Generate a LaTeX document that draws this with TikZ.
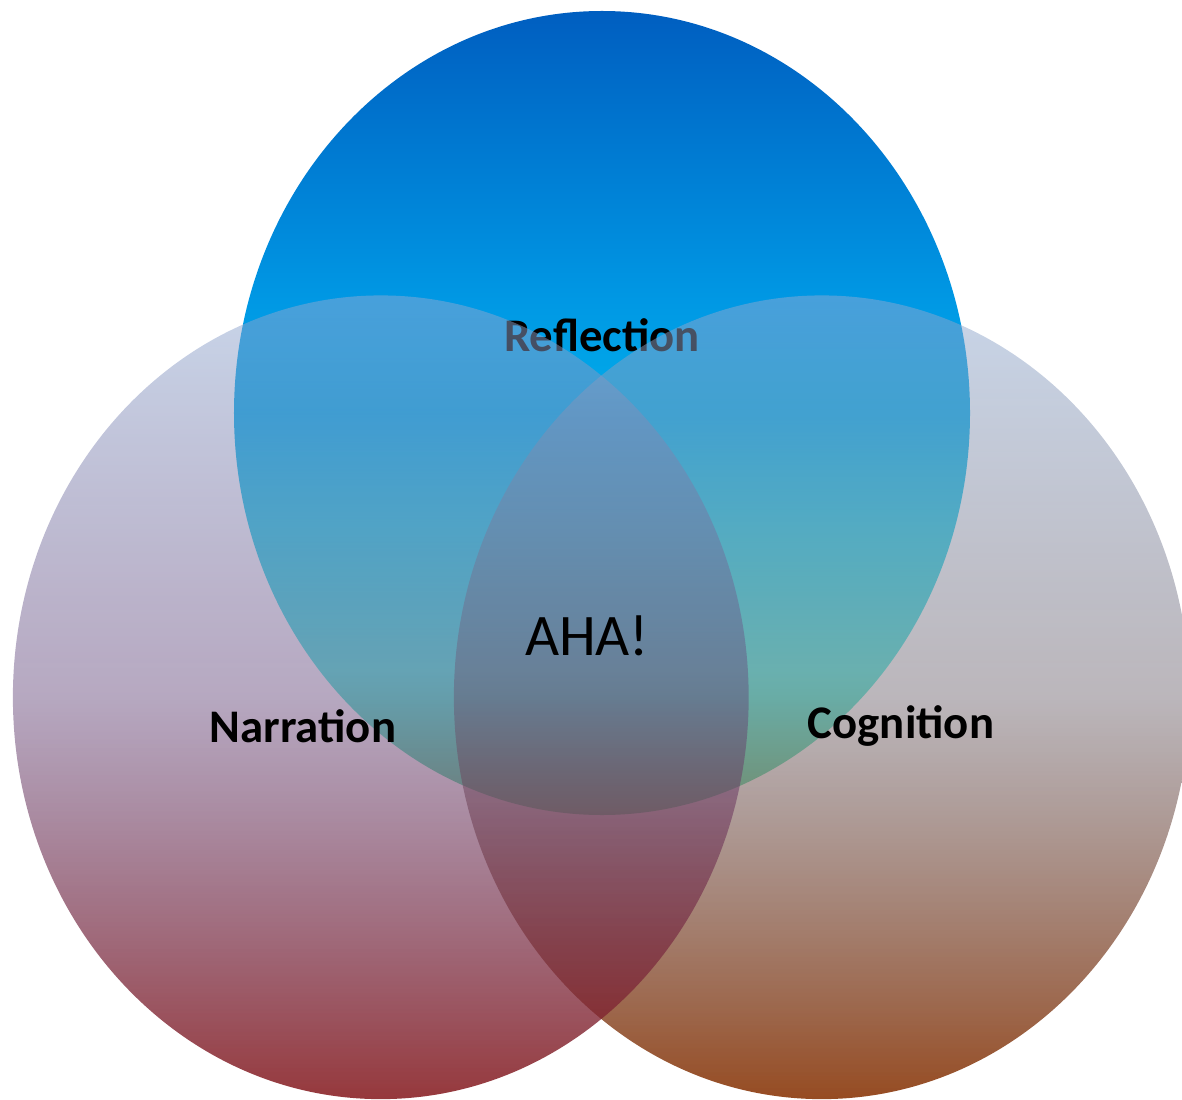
\documentclass[tikz,border=0pt]{standalone}
\usepackage{fontspec}
\setmainfont{Carlito}
\usetikzlibrary{fadings}
\definecolor{reflecttop}{RGB}{0,94,192}
\definecolor{reflectsky}{RGB}{0,152,228}
\definecolor{reflectmid}{RGB}{0,172,234}
\definecolor{reflectcyan}{RGB}{45,210,234}
\definecolor{reflectaqua}{RGB}{100,240,228}
\definecolor{reflectbot}{RGB}{110,220,160}
\definecolor{circtop}{RGB}{145,171,211}
\definecolor{narrmid}{RGB}{100,70,122}
\definecolor{narrbot}{RGB}{134,26,30}
\definecolor{cognmid}{RGB}{110,100,110}
\definecolor{cognbot}{RGB}{134,48,0}
\pgfdeclareverticalshading{reflectshade}{100bp}{color(0bp)=(reflectbot); color(25bp)=(reflectbot);
  color(34bp)=(reflectaqua); color(43bp)=(reflectcyan); color(50bp)=(reflectmid);
  color(57bp)=(reflectsky); color(75bp)=(reflecttop); color(100bp)=(reflecttop)}
\tikzfading[name=vennfade, top color=transparent!50, bottom color=transparent!13, middle color=transparent!53]

\begin{document}
\begin{tikzpicture}[
  x=0.2mm, y=-0.2mm,
  blob/.style={path fading=vennfade},
  vennlabel/.style={font=\fontsize{26.6}{32}\selectfont\bfseries, inner sep=0pt},
  ahalabel/.style={font=\fontsize{33.5}{40}\selectfont, inner sep=0pt}
]
\useasboundingbox (0,0) rectangle (1182,1100);
\shade[shading=reflectshade]
  (602,413) ellipse [x radius=73.6mm, y radius=80.4mm];
\node[vennlabel] (refl) at (602,335) {Reflection};
\shade[blob, top color=circtop, bottom color=cognbot, middle color=cognmid]
  (822,697) ellipse [x radius=73.6mm, y radius=80.4mm];
\shade[blob, top color=circtop, bottom color=narrbot, middle color=narrmid]
  (381,697) ellipse [x radius=73.6mm, y radius=80.4mm];
\node[vennlabel] (narr) at (303,726) {Narration};
\node[vennlabel] (cogn) at (901,726) {Cognition};
\node[ahalabel] (aha) at (587,636) {AHA!};
\end{tikzpicture}
\end{document}
